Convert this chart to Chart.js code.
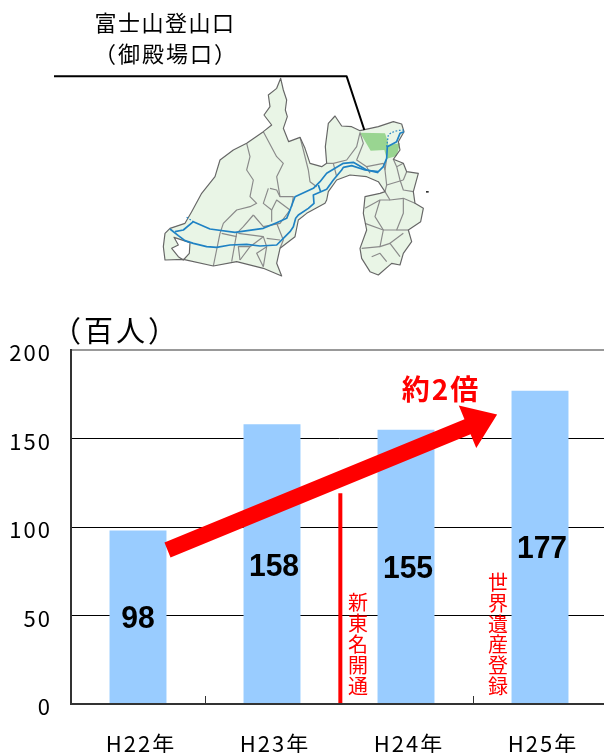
<!DOCTYPE html>
<html lang="ja">
<head>
<meta charset="utf-8">
<title>富士山登山口（御殿場口）</title>
<script src="https://cdn.jsdelivr.net/npm/chart.js@4/dist/chart.umd.min.js"></script>
<style>
  html, body { margin: 0; padding: 0; background: #fff; overflow: hidden; }
  #wrap { width: 604px; height: 753px; overflow: hidden; }
  canvas { display: block; }
</style>
</head>
<body>
<div id="wrap"><canvas id="climbers" width="607" height="753" style="width:607px;height:753px"></canvas></div>
<script>
// Chart data
const categories = ['H22年', 'H23年', 'H24年', 'H25年'];
const visitors = [98, 158, 155, 177];
const valueLabels = ['98', '158', '155', '177'];
const valueLabelHeights = [49, 78, 77, 88.5];
const yTicks = [0, 50, 100, 150, 200];

// Annotations, in axis units (category index, value)
const trendFrom = [0.22, 87];
const trendTo = [2.68, 163.5];
const openingLine = [1.51, 119];

const JP = '"Noto Sans CJK JP", "Noto Sans", sans-serif';
const RED = '#ff0000';

// Shizuoka map (3x units, drawn at 1/3 scale)
const mapOutline = 'M692 235L700 270 710 300 706 330 712 350 700 385 716 425 750 412 765 445 780 490 815 500 830 490 826 440 835 370 855 348 875 378 905 380 930 392 985 380 1030 365 1055 372 1062 395 1045 425 1050 450 1030 478 1060 490 1070 515 1105 520 1090 575 1095 610 1120 625 1112 665 1075 690 1085 725 1060 760 1050 795 1025 790 985 825 960 815 935 775 930 745 950 690 940 640 945 590 990 580 1005 575 985 545 950 530 900 525 860 540 835 575 830 600 825 610 770 640 745 660 735 710 690 745 680 790 695 828 640 805 560 785 490 798 400 778 345 780 340 740 345 700 360 685 405 670 425 635 455 580 495 530 510 480 550 450 590 430 640 395 665 375 642 345 660 320 655 285 680 265Z';
const mapBorders = [
  'M590 430L600 470 590 510 610 540 600 590 620 610 600 620 560 630 520 670 510 700 490 798',
  'M640 395L680 470 700 490 680 530 690 590 730 590 725 620',
  'M750 412L760 450 775 510 780 545 800 560',
  'M655 565L640 610 665 630 665 665',
  'M660 565L680 570 690 590',
  'M610 645L580 680 560 700 545 785',
  'M610 645L640 680 690 670 720 630 680 600 665 630',
  'M680 670L700 720 690 745',
  'M565 700L640 710 600 740 570 780',
  'M570 780L565 740 600 740',
  'M640 710L650 740 640 800',
  'M640 800L620 760 650 740',
  'M650 715L690 720',
  'M515 700L560 710',
  'M830 490L850 490 890 480 920 440 930 398 940 430 920 480 950 500 1000 490 1005 510',
  'M950 500L960 520',
  'M850 490L860 530',
  'M1010 475L1005 510 1010 555 1005 575 1020 600 1060 595 1095 610',
  'M1030 478L1040 500 1050 540 1060 570 1090 575',
  'M1060 490L1040 500',
  'M1070 515L1060 540',
  'M1010 555L1060 540',
  'M945 625L990 600 1020 600',
  'M990 600L975 650 1000 690 1040 690 1060 640 1060 595',
  'M945 670L1000 690 990 740 1020 730 1050 770',
  'M935 745L990 740',
  'M1040 690L1075 690',
  'M1020 730L1060 700',
  'M965 770L990 760 1010 785'
];
const mapHighlight = 'M930 398L1005 400 1012 420 1015 435 1050 430 1040 468 1010 476 1003 450 962 452Z';
const mapLake = 'M372 712L420 728 418 760 400 780 385 770 365 745 385 735Z';
const mapRoads = [
  'M360 687L385 707 405 722 430 730 470 740 500 742 540 735 590 733 630 738 680 735 700 715 720 695 730 680 737 655 745 645 775 625 792 610 790 585 830 568 850 540 875 510 880 502 905 497 945 510 985 515 1000 500 1010 475 1012 440 1040 425 1050 400 1062 395',
  'M375 695L400 690 430 665 480 687 555 697 640 685 680 668 710 655 722 625 735 590 790 565 810 545 830 520 880 490 910 487 950 510 985 518',
  'M805 555L812 575'
];
const mapRoadsDotted = [
  'M1010 440L1015 405C1030 392 1050 390 1065 390',
  'M410 652L430 665'
];

function drawText(ctx, text, x, y, font, color, spacing) {
    ctx.save();
    ctx.font = font;
    ctx.fillStyle = color;
    ctx.letterSpacing = (spacing || 0) + 'px';
    ctx.textAlign = 'center';
    ctx.textBaseline = 'middle';
    ctx.fillText(text, x, y);
    ctx.restore();
}

function drawVertical(ctx, text, x, yTop, pitch, font, color) {
    Array.from(text).forEach((ch, i) => {
        drawText(ctx, ch, x, yTop + pitch * (i + 0.5), font, color, 0);
    });
}

// Map and its titles, above the plot
const mapPlugin = {
    id: 'mapPlugin',
    beforeDraw(chart) {
        const ctx = chart.ctx;
        ctx.save();
        ctx.translate(50, 0);
        ctx.scale(1 / 3, 1 / 3);
        ctx.lineJoin = 'round';
        const outline = new Path2D(mapOutline);
        ctx.fillStyle = '#e9f5e6';
        ctx.fill(outline);
        ctx.fillStyle = '#99d591';
        ctx.fill(new Path2D(mapHighlight));
        ctx.strokeStyle = '#8a8a8a';
        ctx.lineWidth = 3.5;
        mapBorders.forEach(d => ctx.stroke(new Path2D(d)));
        ctx.fillStyle = '#ffffff';
        const lake = new Path2D(mapLake);
        ctx.fill(lake);
        ctx.strokeStyle = '#666666';
        ctx.stroke(lake);
        ctx.stroke(outline);
        ctx.strokeStyle = '#1f82c4';
        ctx.lineWidth = 5;
        mapRoads.forEach(d => ctx.stroke(new Path2D(d)));
        ctx.lineWidth = 3.5;
        ctx.setLineDash([5, 5]);
        mapRoadsDotted.forEach(d => ctx.stroke(new Path2D(d)));
        ctx.setLineDash([]);
        // leader line from the title to the trailhead
        ctx.strokeStyle = '#000000';
        ctx.lineWidth = 6;
        ctx.stroke(new Path2D('M12 229L890 229 943 390'));
        ctx.fillStyle = '#333333';
        ctx.fillRect(1128, 573, 8, 5);
        ctx.restore();

        drawText(ctx, '富士山登山口', 165, 23, '22px ' + JP, '#000', 1.5);
        drawText(ctx, '（御殿場口）', 166, 54, '22px ' + JP, '#000', 2);
        drawText(ctx, '（百人）', 116, 331, '29px ' + JP, '#000', 3);

        // tick labels are spaced out like the original
        ctx.letterSpacing = '2px';
    },
    afterDatasetsDraw(chart) {
        const ctx = chart.ctx;
        const x = chart.scales.x;
        const y = chart.scales.y;
        ctx.save();
        ctx.letterSpacing = '0px';

        // bar values, a little condensed
        valueLabels.forEach((label, i) => {
            const lx = x.getPixelForValue(i) + (i === 0 ? 0 : 2);
            const ly = y.getPixelForValue(valueLabelHeights[i]) + 1.5;
            ctx.save();
            ctx.translate(lx, ly);
            ctx.scale(0.94, 1);
            drawText(ctx, label, 0, 0, 'bold 32px "Liberation Sans", Arial, sans-serif', '#000', 0);
            ctx.restore();
        });

        // 新東名 opening line
        ctx.strokeStyle = RED;
        ctx.lineWidth = 4;
        ctx.beginPath();
        ctx.moveTo(x.getPixelForValue(openingLine[0]), y.getPixelForValue(openingLine[1]));
        ctx.lineTo(x.getPixelForValue(openingLine[0]), y.getPixelForValue(0));
        ctx.stroke();

        // trend arrow
        const x0 = x.getPixelForValue(trendFrom[0]);
        const y0 = y.getPixelForValue(trendFrom[1]);
        const x1 = x.getPixelForValue(trendTo[0]);
        const y1 = y.getPixelForValue(trendTo[1]);
        const len = Math.hypot(x1 - x0, y1 - y0);
        const ux = (x1 - x0) / len;
        const uy = (y1 - y0) / len;
        const half = 8, headHalf = 23, headLen = 32;
        const bx = x1 - ux * headLen;
        const by = y1 - uy * headLen;
        ctx.fillStyle = RED;
        ctx.beginPath();
        ctx.moveTo(x0 - uy * half, y0 + ux * half);
        ctx.lineTo(bx - uy * half, by + ux * half);
        ctx.lineTo(bx - uy * headHalf, by + ux * headHalf);
        ctx.lineTo(x1, y1);
        ctx.lineTo(bx + uy * headHalf, by - ux * headHalf);
        ctx.lineTo(bx + uy * half, by - ux * half);
        ctx.lineTo(x0 + uy * half, y0 - ux * half);
        ctx.closePath();
        ctx.fill();

        drawText(ctx, '約2倍', 441, 389, 'bold 28px ' + JP, RED, 2);
        drawVertical(ctx, '新東名開通', 358, 592, 21, '20px ' + JP, RED);
        drawVertical(ctx, '世界遺産登録', 498, 572, 20.8, '20px ' + JP, RED);
        ctx.restore();
    }
};

const chart = new Chart(document.getElementById('climbers').getContext('2d'), {
    type: 'bar',
    plugins: [mapPlugin],
    data: {
        labels: categories,
        datasets: [{
            data: visitors,
            backgroundColor: '#99ccff',
            barPercentage: 0.425,
            categoryPercentage: 1
        }]
    },
    options: {
        responsive: false,
        animation: false,
        events: [],
        layout: { padding: { top: 350 } },
        plugins: { legend: { display: false }, tooltip: { enabled: false } },
        scales: {
            x: {
                afterFit(axis) { axis.height = 49; },
                grid: { drawOnChartArea: false, color: '#333333', tickLength: -8, lineWidth: 1 },
                border: { color: '#333333', width: 2, z: 1 },
                ticks: {
                    color: '#000',
                    font: { family: JP, size: 22 },
                    padding: 34,
                    labelOffset: 3,
                    maxRotation: 0
                }
            },
            y: {
                min: 0,
                max: yTicks[yTicks.length - 1],
                afterFit(axis) { axis.width = 71; },
                afterBuildTicks(axis) { axis.ticks = yTicks.map(v => ({ value: v })); },
                grid: {
                    drawTicks: false,
                    color: ctx => ctx.tick.value === 200 ? '#999999' : '#000000',
                    lineWidth: ctx => ctx.tick.value === 200 ? 2 : 1
                },
                border: { color: '#333333', width: 2 },
                ticks: {
                    color: '#000',
                    font: { family: JP, size: 22 },
                    padding: 19,
                    labelOffset: 3
                }
            }
        }
    }
});
</script>
</body>
</html>
